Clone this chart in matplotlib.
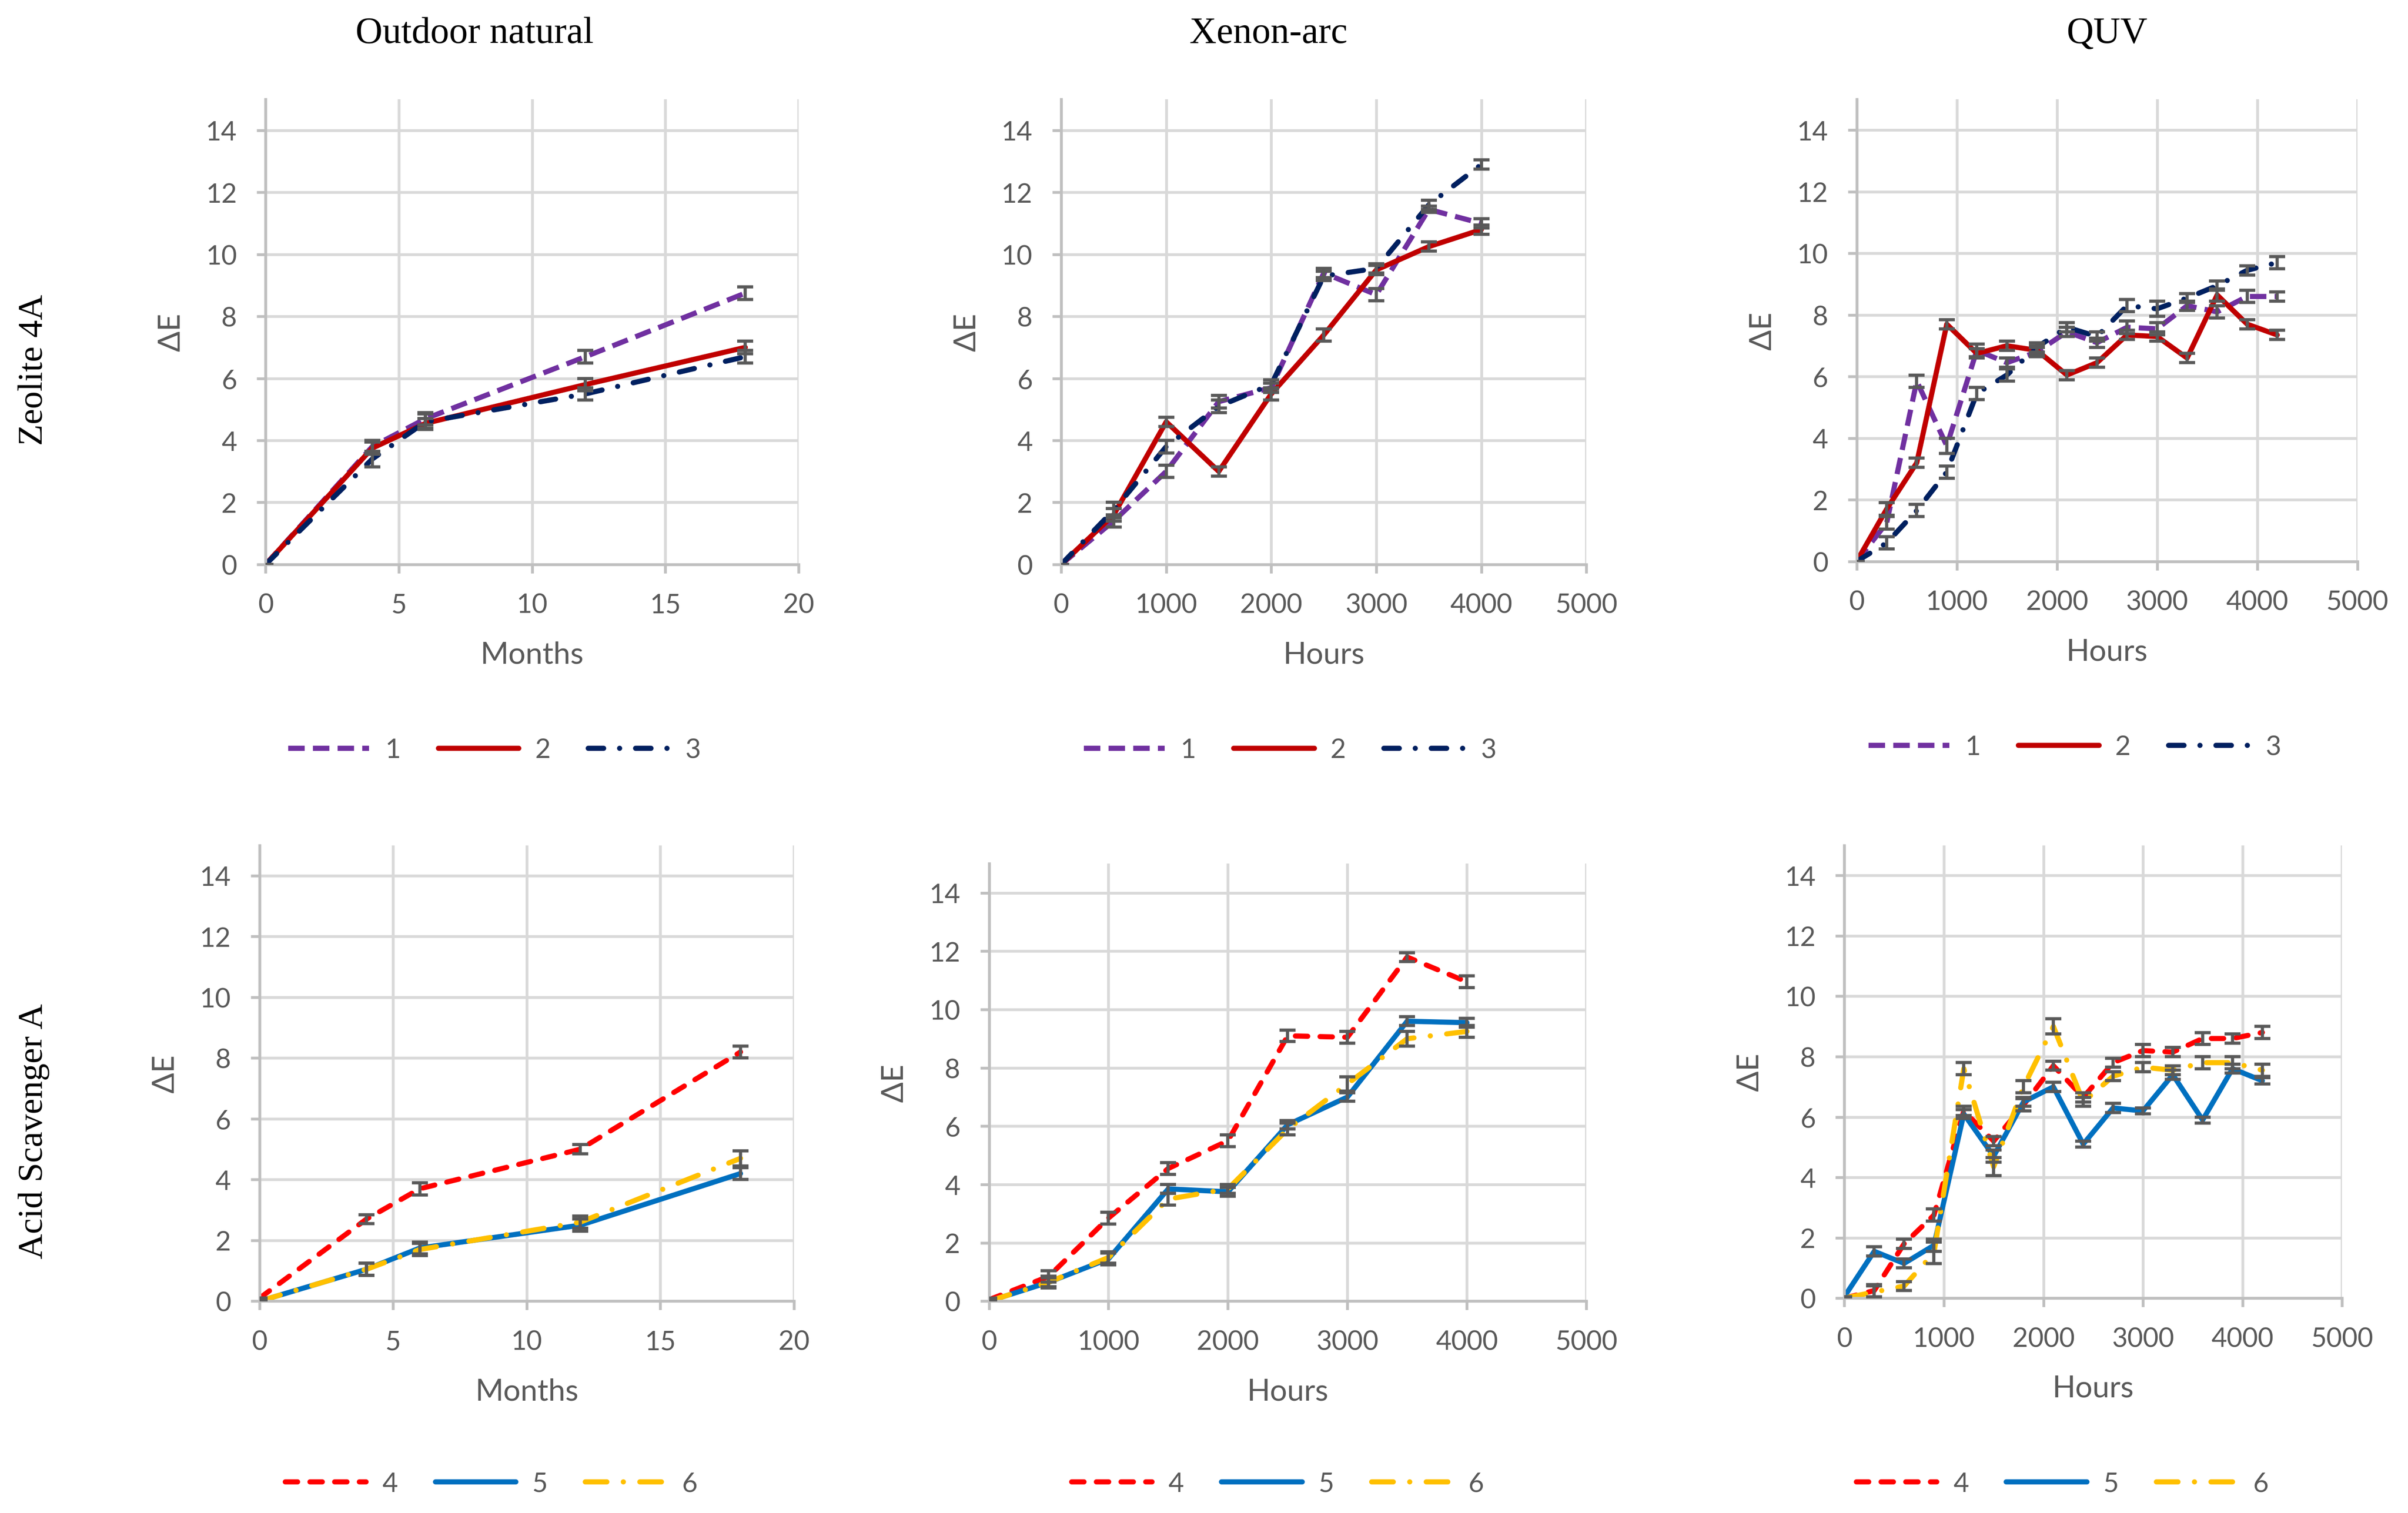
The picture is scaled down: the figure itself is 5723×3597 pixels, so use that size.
import matplotlib
matplotlib.use('Agg')
import matplotlib.pyplot as plt

plt.rcParams['font.family'] = ['Lato', 'DejaVu Sans']

# ---------------- data ----------------
months = [0, 4, 6, 12, 18]
xenon_hours = [0, 500, 1000, 1500, 2000, 2500, 3000, 3500, 4000]
quv_hours = [0, 300, 600, 900, 1200, 1500, 1800, 2100, 2400, 2700, 3000, 3300, 3600, 3900, 4200]

# Zeolite 4A - outdoor
out_z1 = [0, 3.8, 4.7, 6.7, 8.75]
out_z2 = [0, 3.75, 4.55, 5.8, 7.0]
out_z3 = [0, 3.4, 4.6, 5.5, 6.7]
out_z1_err = [0, 0.2, 0.2, 0.2, 0.2]
out_z2_err = [0, 0.2, 0.15, 0.2, 0.2]
out_z3_err = [0, 0.25, 0.25, 0.2, 0.2]

# Zeolite 4A - xenon
xen_z1 = [0, 1.4, 3.0, 5.25, 5.7, 9.4, 8.7, 11.45, 11.0]
xen_z2 = [0, 1.6, 4.6, 3.0, 5.5, 7.4, 9.5, 10.25, 10.8]
xen_z3 = [0, 1.75, 3.8, 5.1, 5.8, 9.3, 9.55, 11.6, 12.9]
xen_z1_err = [0, 0.2, 0.2, 0.2, 0.15, 0.15, 0.2, 0.1, 0.15]
xen_z2_err = [0, 0.2, 0.15, 0.15, 0.2, 0.2, 0.15, 0.15, 0.15]
xen_z3_err = [0, 0.25, 0.2, 0.2, 0.15, 0.15, 0.15, 0.15, 0.15]

# Zeolite 4A - QUV
quv_z1 = [0, 1.25, 5.85, 3.75, 6.85, 6.45, 6.8, 7.45, 7.1, 7.6, 7.55, 8.3, 8.1, 8.6, 8.6]
quv_z2 = [0, 1.7, 3.2, 7.7, 6.75, 7.0, 6.85, 6.05, 6.45, 7.35, 7.3, 6.6, 8.65, 7.7, 7.35]
quv_z3 = [0, 0.6, 1.65, 2.9, 5.45, 6.05, 6.95, 7.6, 7.3, 8.3, 8.2, 8.55, 8.95, 9.45, 9.7]
quv_z1_err = [0, 0.2, 0.2, 0.25, 0.2, 0.15, 0.15, 0.15, 0.15, 0.2, 0.2, 0.15, 0.2, 0.2, 0.15]
quv_z2_err = [0, 0.2, 0.15, 0.15, 0.15, 0.15, 0.15, 0.15, 0.15, 0.15, 0.15, 0.15, 0.2, 0.15, 0.15]
quv_z3_err = [0, 0.2, 0.2, 0.2, 0.2, 0.2, 0.15, 0.15, 0.15, 0.2, 0.25, 0.15, 0.15, 0.15, 0.2]

# Acid Scavenger A - outdoor
out_a4 = [0.1, 2.7, 3.7, 5.0, 8.2]
out_a5 = [0, 1.05, 1.75, 2.5, 4.2]
out_a6 = [0, 1.05, 1.7, 2.6, 4.7]
out_a4_err = [0, 0.15, 0.2, 0.15, 0.2]
out_a5_err = [0, 0.2, 0.2, 0.2, 0.2]
out_a6_err = [0, 0.2, 0.2, 0.2, 0.25]

# Acid Scavenger A - xenon
xen_a4 = [0.05, 0.85, 2.85, 4.55, 5.5, 9.1, 9.05, 11.8, 10.95]
xen_a5 = [0, 0.65, 1.45, 3.85, 3.75, 6.05, 7.0, 9.6, 9.55]
xen_a6 = [0, 0.65, 1.5, 3.5, 3.85, 5.9, 7.45, 9.0, 9.25]
xen_a4_err = [0.05, 0.2, 0.2, 0.2, 0.2, 0.2, 0.2, 0.15, 0.2]
xen_a5_err = [0, 0.15, 0.2, 0.15, 0.15, 0.15, 0.15, 0.15, 0.15]
xen_a6_err = [0, 0.2, 0.2, 0.2, 0.15, 0.2, 0.25, 0.25, 0.2]

# Acid Scavenger A - QUV
quv_a4 = [0, 0.25, 1.8, 2.75, 6.2, 5.2, 6.4, 7.7, 6.65, 7.8, 8.2, 8.15, 8.6, 8.6, 8.8]
quv_a5 = [0.05, 1.55, 1.15, 1.75, 6.1, 4.7, 6.5, 7.0, 5.1, 6.3, 6.2, 7.4, 5.9, 7.6, 7.2]
quv_a6 = [0, 0.2, 0.4, 1.5, 7.6, 4.35, 7.0, 9.0, 6.5, 7.35, 7.65, 7.55, 7.8, 7.8, 7.55]
quv_a4_err = [0, 0.2, 0.15, 0.2, 0.15, 0.15, 0.2, 0.15, 0.15, 0.15, 0.2, 0.15, 0.2, 0.15, 0.2]
quv_a5_err = [0, 0.15, 0.15, 0.2, 0.15, 0.2, 0.15, 0.15, 0.1, 0.15, 0.1, 0.15, 0.1, 0.15, 0.1]
quv_a6_err = [0, 0.2, 0.15, 0.35, 0.2, 0.3, 0.2, 0.25, 0.15, 0.15, 0.15, 0.15, 0.2, 0.2, 0.2]

col_titles = ['Outdoor natural', 'Xenon-arc', 'QUV']
row_titles = ['Zeolite 4A', 'Acid Scavenger A']

# ---------------- styles ----------------
W, H = 1568.0, 986.0   # reference layout units
LW = 4.4
GRID = '#D9D9D9'
AXC = '#BFBFBF'
TXT = '#595959'
ERR = '#595959'

style_1 = dict(color='#7030A0', dashes=(3.2, 1.6), dash_capstyle='butt')
style_2 = dict(color='#C00000', linestyle='-', solid_capstyle='round', solid_joinstyle='round')
style_3 = dict(color='#002060', dashes=(3.0, 3.1, 0.01, 3.1), dash_capstyle='round')
style_4 = dict(color='#FF0000', dashes=(2.4, 2.4), dash_capstyle='round')
style_5 = dict(color='#0070C0', linestyle='-', solid_capstyle='round', solid_joinstyle='round')
style_6 = dict(color='#FFC000', dashes=(4.2, 3.2, 0.01, 3.2), dash_capstyle='round')

fig = plt.figure(figsize=(5723 / 200, 3598 / 200), dpi=200)


def make_axes(x0, x1, y0, ytop):
    return fig.add_axes([x0 / W, 1 - y0 / H, (x1 - x0) / W, (y0 - ytop) / H])


def style_axes(ax, xmax, xstep, xlabel):
    ax.set_xlim(0, xmax)
    ax.set_ylim(0, 15)
    ax.set_xticks(range(0, xmax + 1, xstep))
    ax.set_yticks(range(0, 15, 2))
    ax.grid(True, color=GRID, linewidth=2.4, zorder=0)
    ax.set_axisbelow(True)
    for s in ['top', 'right']:
        ax.spines[s].set_visible(False)
    for s in ['left', 'bottom']:
        ax.spines[s].set_color(AXC)
        ax.spines[s].set_linewidth(2.4)
    ax.tick_params(colors=AXC, labelcolor=TXT, labelsize=23, length=7.5, width=2.4, pad=17)
    ax.set_xlabel(xlabel, fontsize=26, color=TXT, labelpad=20)
    ax.set_ylabel('ΔE', fontsize=26, color=TXT, labelpad=18)


def draw(ax, x, y, err, st, label):
    ax.errorbar(x, y, yerr=err, fmt='none', ecolor=ERR, elinewidth=2.7,
                capsize=7, capthick=2.7, zorder=3)
    ax.plot(x, y, linewidth=LW, label=label, zorder=2, **st)


panels = [
    # rect, xmax, step, xlabel, x, series, legend centre
    ((173, 520, 368, 65), 20, 5, 'Months', months,
     [(out_z1, out_z1_err, style_1, '1'), (out_z2, out_z2_err, style_2, '2'),
      (out_z3, out_z3_err, style_3, '3')], (322, 489)),
    ((691, 1033, 368, 65), 5000, 1000, 'Hours', xenon_hours,
     [(xen_z1, xen_z1_err, style_1, '1'), (xen_z2, xen_z2_err, style_2, '2'),
      (xen_z3, xen_z3_err, style_3, '3')], (840, 489)),
    ((1209, 1535, 366, 65), 5000, 1000, 'Hours', quv_hours,
     [(quv_z1, quv_z1_err, style_1, '1'), (quv_z2, quv_z2_err, style_2, '2'),
      (quv_z3, quv_z3_err, style_3, '3')], (1351, 487)),
    ((169, 517, 848, 551), 20, 5, 'Months', months,
     [(out_a4, out_a4_err, style_4, '4'), (out_a5, out_a5_err, style_5, '5'),
      (out_a6, out_a6_err, style_6, '6')], (320, 967)),
    ((644, 1033, 848, 563), 5000, 1000, 'Hours', xenon_hours,
     [(xen_a4, xen_a4_err, style_4, '4'), (xen_a5, xen_a5_err, style_5, '5'),
      (xen_a6, xen_a6_err, style_6, '6')], (832, 967)),
    ((1201, 1525, 846, 551), 5000, 1000, 'Hours', quv_hours,
     [(quv_a4, quv_a4_err, style_4, '4'), (quv_a5, quv_a5_err, style_5, '5'),
      (quv_a6, quv_a6_err, style_6, '6')], (1343, 967)),
]

for rect, xmax, step, xlabel, x, series, (lx, ly) in panels:
    ax = make_axes(*rect)
    style_axes(ax, xmax, step, xlabel)
    for y, err, st, lab in series:
        draw(ax, x, y, err, st, lab)
    leg = ax.legend(loc='center', bbox_to_anchor=(lx / W, 1 - ly / H),
                    bbox_transform=fig.transFigure, ncol=3, frameon=False,
                    fontsize=23, handlelength=3.0, columnspacing=1.4, handletextpad=0.6)
    for t in leg.get_texts():
        t.set_color(TXT)

# column and row titles
for txt, cx in zip(col_titles, [309, 826, 1372]):
    fig.text(cx / W, 1 - 22 / H, txt, ha='center', va='center', fontsize=32,
             family='Liberation Serif', color='black')
for txt, cy in zip(row_titles, [241, 737]):
    fig.text(22 / W, 1 - cy / H, txt, ha='center', va='center', fontsize=30,
             family='Liberation Serif', color='black', rotation=90)

plt.savefig('out.png', dpi=200)
